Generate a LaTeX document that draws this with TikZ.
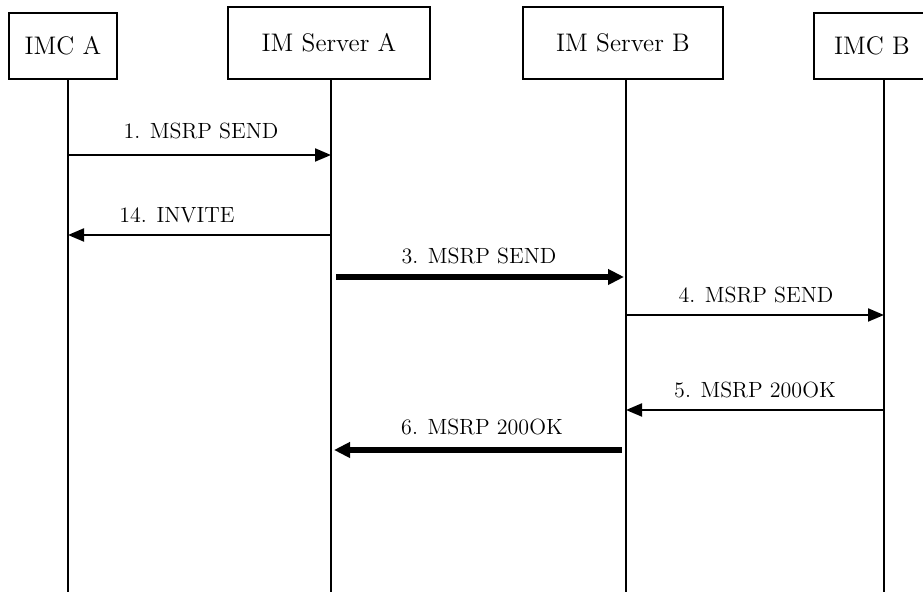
\documentclass[tikz,border=0pt]{standalone}
\usetikzlibrary{arrows.meta}
\begin{document}
\begin{tikzpicture}[x=0.5pt,y=-0.5pt,
  box/.style={draw,line width=0.9pt,inner sep=0pt,font=\fontsize{12.7}{14}\selectfont},
  life/.style={line width=0.8pt},
  msg/.style={line width=1pt,-{Triangle[length=8pt,width=6.5pt]}},
  bigmsg/.style={line width=3pt,-{Triangle[length=8pt,width=7.5pt]}},
  lbl/.style={font=\fontsize{11}{13}\selectfont,inner sep=0pt}]
\useasboundingbox (0,0) rectangle (923,592);
\clip (0,0) rectangle (923,592);
% participants
\node[box,minimum width=54pt,minimum height=33pt] (imca) at (63,46) {IMC A};
\node[box,minimum width=101pt,minimum height=36pt] (sa) at (329,43) {IM Server A};
\node[box,minimum width=100pt,minimum height=36pt] (sb) at (623,43) {IM Server B};
\node[box,minimum width=58pt,minimum height=33pt] (imcb) at (872,46) {IMC B};
% lifelines
\coordinate (la) at (68,79);
\coordinate (lsa) at (331,79);
\coordinate (lsb) at (626,79);
\coordinate (lb) at (884,79);
\coordinate (bot) at (0,600);
\draw[life] (la) -- (la |- bot);
\draw[life] (lsa) -- (lsa |- bot);
\draw[life] (lsb) -- (lsb |- bot);
\draw[life] (lb) -- (lb |- bot);
% messages
\draw[msg] (la |- 0,155) -- (lsa |- 0,155);
\node[lbl] (m1) at (201,131) {1. MSRP SEND};
\draw[msg] (lsa |- 0,235) -- (la |- 0,235);
\node[lbl] (m14) at (177,215) {14. INVITE};
\draw[bigmsg] (336,277) -- (624,277);
\node[lbl] (m3) at (479,256) {3. MSRP SEND};
\draw[msg] (lsb |- 0,315) -- (lb |- 0,315);
\node[lbl] (m4) at (756,295) {4. MSRP SEND};
\draw[msg] (lb |- 0,410) -- (lsb |- 0,410);
\node[lbl] (m5) at (755,390) {5. MSRP 200OK};
\draw[bigmsg] (622,450) -- (334,450);
\node[lbl] (m6) at (482,427) {6. MSRP 200OK};
\end{tikzpicture}
\end{document}
